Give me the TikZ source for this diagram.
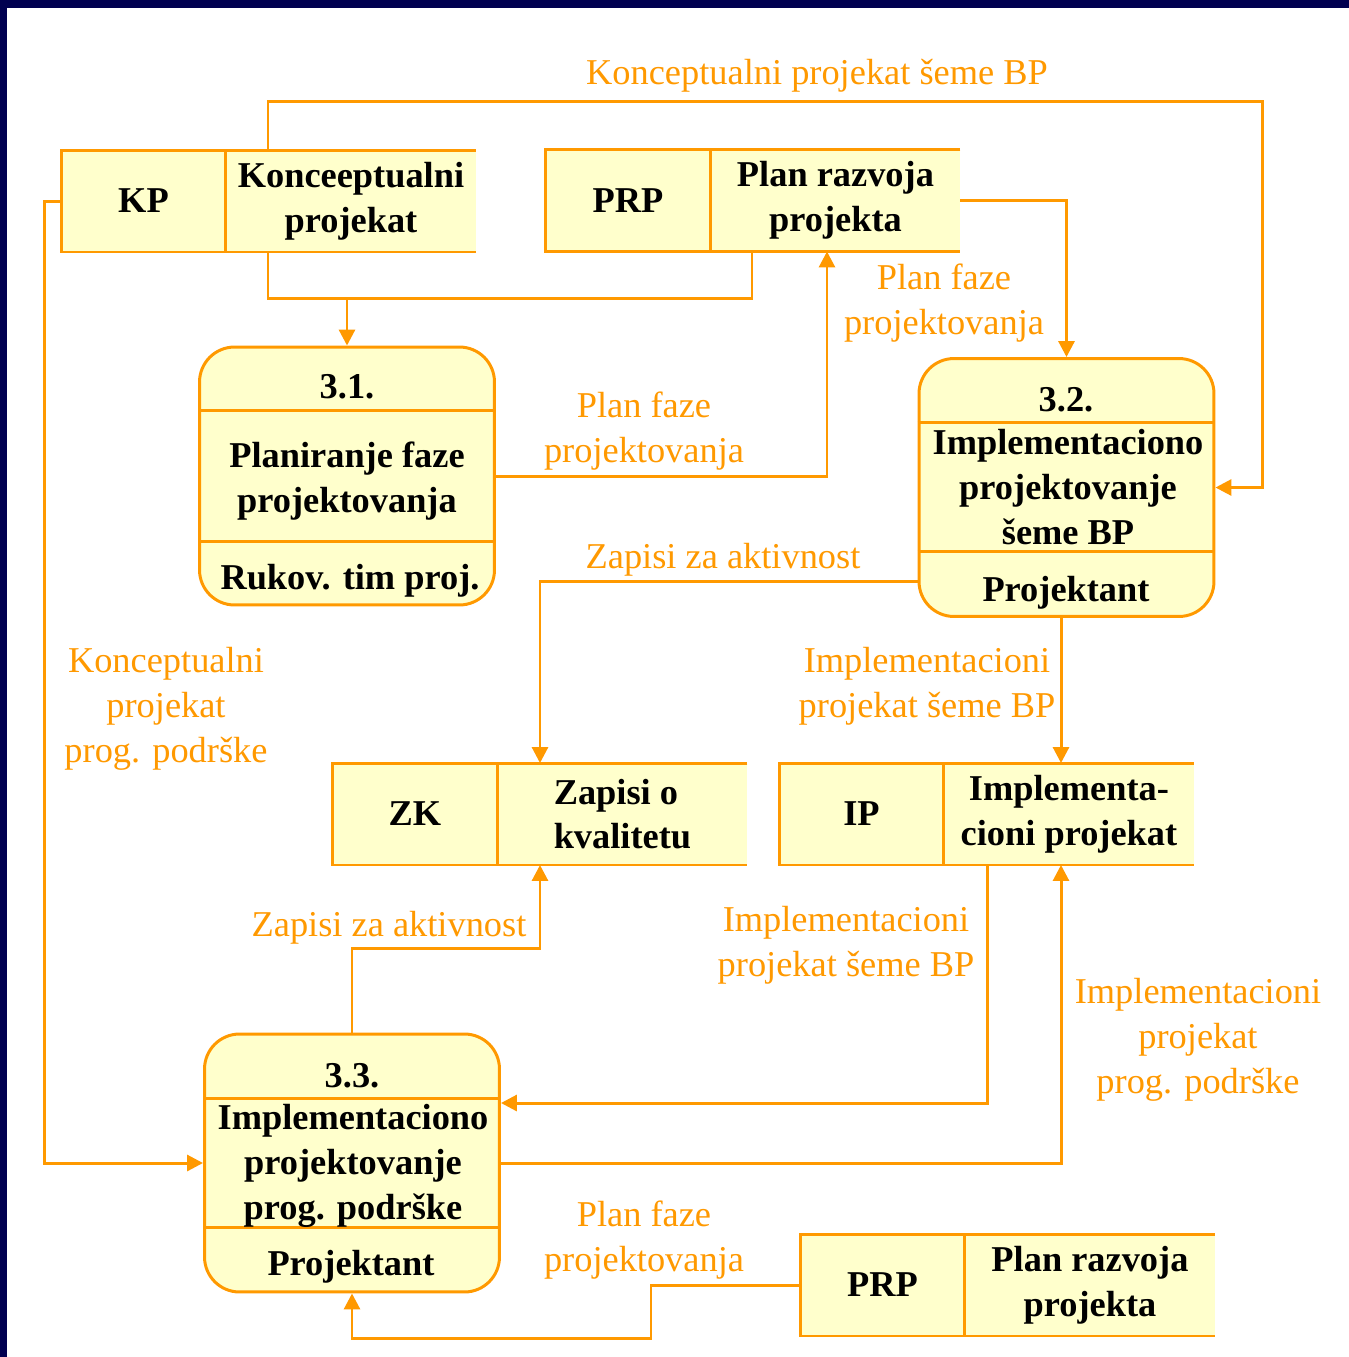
\documentclass[tikz,border=0pt]{standalone}
\usepackage{fontspec}
\setmainfont{Liberation Serif}
\usetikzlibrary{arrows.meta,positioning}
\definecolor{dfdorange}{RGB}{255,153,0}
\definecolor{dfdfill}{RGB}{255,255,204}
\definecolor{slidenavy}{RGB}{0,0,80}
\tikzset{
  proc/.style={draw=dfdorange,fill=dfdfill,line width=1.7pt,rounded corners=0.7cm,
    minimum width=5.9cm,minimum height=5.16cm,inner sep=0pt},
  storeid/.style={fill=dfdfill,minimum width=3.3cm,minimum height=2.04cm,inner sep=0pt,
    outer sep=0pt,font=\bfseries\fontsize{20.7}{25.5}\selectfont},
  storedesc/.style={storeid,minimum width=5cm,align=center},
  ptext/.style={font=\bfseries\fontsize{20.7}{25.5}\selectfont,align=center,inner sep=0pt},
  flowlabel/.style={text=dfdorange,font=\fontsize{20.7}{25.5}\selectfont,align=center,inner sep=0pt},
  flowline/.style={draw=dfdorange,line width=1.7pt},
  flow/.style={flowline,-{Triangle[length=9pt,width=9pt]}}
}
% open-ended data store frame
\newcommand{\storeframe}[2]{%
  \draw[flowline] (#2.north east) -- (#1.north west) -- (#1.south west) -- (#2.south east);
  \draw[flowline] (#1.north east) -- (#1.south east);}
\begin{document}
\begin{tikzpicture}[x=0.02cm,y=-0.02cm]
    \useasboundingbox (0,0) rectangle (1349,1357);
    \fill[slidenavy] (0,0) rectangle (1349,1357);
    \fill[white] (7,8) rectangle (1349,1357);

    % Processes
    \node[proc] (p31) at (347,476) {};
    \node[proc] (p32) at (1066.5,487.5) {};
    \node[proc] (p33) at (352,1163) {};
    \draw[flowline] (p31.west |- 0,410) -- (p31.east |- 0,410);
    \draw[flowline] (p31.west |- 0,541) -- (p31.east |- 0,541);
    \draw[flowline] (p32.west |- 0,422) -- (p32.east |- 0,422);
    \draw[flowline] (p32.west |- 0,551) -- (p32.east |- 0,551);
    \draw[flowline] (p33.west |- 0,1098) -- (p33.east |- 0,1098);
    \draw[flowline] (p33.west |- 0,1227) -- (p33.east |- 0,1227);

    \node[ptext,anchor=base] (p31num) at (347,398) {3.1.};
    \node[ptext] (p31name) at (347,481) {Planiranje faze\\projektovanja};
    \node[ptext,anchor=base] (p31who) at (350,589) {Rukov. tim proj.};
    \node[ptext,anchor=base] (p32num) at (1066,411) {3.2.};
    \node[ptext] (p32name) at (1068,487) {Implementaciono\\projektovanje\\šeme BP};
    \node[ptext,anchor=base] (p32who) at (1066,601) {Projektant};
    \node[ptext,anchor=base] (p33num) at (352,1087) {3.3.};
    \node[ptext] (p33name) at (353,1166) {Implementaciono\\projektovanje\\prog. podrške};
    \node[ptext,anchor=base] (p33who) at (351,1275) {Projektant};

    % Data stores
    \node[storeid] (kp) at (143.5,201) {KP};
    \node[storedesc,right=0pt of kp] (kpd) {Konceeptualni\\projekat};
    \node[storeid] (prp) at (628,200.5) {PRP};
    \node[storedesc,right=0pt of prp] (prpd) {Plan razvoja\\projekta};
    \node[storeid] (zk) at (415,814) {ZK};
    \node[storedesc,align=left,right=0pt of zk] (zkd) {Zapisi o\\kvalitetu};
    \node[storeid] (ip) at (861.5,814) {IP};
    \node[storedesc,right=0pt of ip] (ipd) {Implementa-\\cioni projekat};
    \node[storeid] (prpb) at (882.5,1285) {PRP};
    \node[storedesc,right=0pt of prpb] (prpbd) {Plan razvoja\\projekta};
    \storeframe{kp}{kpd}
    \storeframe{prp}{prpd}
    \storeframe{zk}{zkd}
    \storeframe{ip}{ipd}
    \storeframe{prpb}{prpbd}

    % Flows
    \coordinate (join) at (347,298);
    \draw[flowline] (kpd.south -| 268,0) |- (752,298) -- (prpd.south -| 752,0);
    \draw[flow] (join) -- (p31.north);
    \draw[flow] (kpd.north -| 268,0) |- (1262,101) |- (p32.east);
    \draw[flow] (p31.east) -| (prpd.south -| 827,0);
    \draw[flow] (prpd.east) -| (p32.north);
    \draw[flow] (p32.west |- 0,581) -| (zkd.north -| 540,0);
    \draw[flow] (p32.south -| 1061,0) -- (ipd.north -| 1061,0);
    \draw[flow] (kp.west) -- ++(-17,0) |- (p33.west);
    \draw[flow] (p33.north) |- (540,948) -- (zkd.south -| 540,0);
    \draw[flow] (ipd.south -| 987,0) |- (p33.east |- 0,1103);
    \draw[flow] (p33.east) -| (ipd.south -| 1061,0);
    \draw[flow] (prpb.west) -| (651,1338) -| (p33.south);

    % Flow labels
    \node[flowlabel,anchor=base] (lkpseme) at (817,84) {Konceptualni projekat šeme BP};
    \node[flowlabel] (lplan1) at (944,303) {Plan faze\\projektovanja};
    \node[flowlabel] (lplan2) at (644,431) {Plan faze\\projektovanja};
    \node[flowlabel,anchor=base] (lzapisi1) at (723,568) {Zapisi za aktivnost};
    \node[flowlabel] (lkpprog) at (166,709) {Konceptualni\\projekat\\prog. podrške};
    \node[flowlabel] (lipseme1) at (927,686) {Implementacioni\\projekat šeme BP};
    \node[flowlabel,anchor=base] (lzapisi2) at (389,936) {Zapisi za aktivnost};
    \node[flowlabel] (lipseme2) at (846,945) {Implementacioni\\projekat šeme BP};
    \node[flowlabel] (lipprog) at (1198,1040) {Implementacioni\\projekat\\prog. podrške};
    \node[flowlabel] (lplan3) at (644,1240) {Plan faze\\projektovanja};
\end{tikzpicture}
\end{document}
